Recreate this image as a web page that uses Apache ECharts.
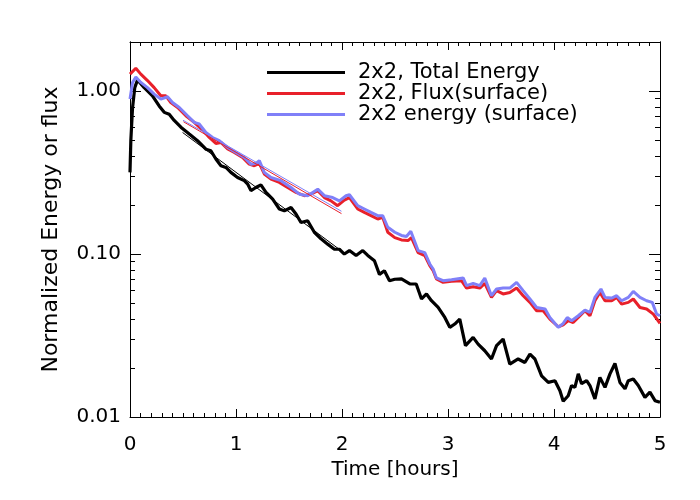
<!DOCTYPE html>
<html>
<head>
<meta charset="utf-8">
<script src="https://cdn.jsdelivr.net/npm/echarts@6/dist/echarts.min.js"></script>
<style>html,body{margin:0;padding:0;background:#fff;}#c{width:700px;height:500px;}</style>
</head>
<body>
<div id="c"></div>
<script>
// [time (hours), normalized value]
const totalEnergy = [[0,0.317],[0.008,0.5],[0.024,0.79],[0.045,1.05],[0.071,1.17],[0.134,1.05],[0.212,0.935],[0.275,0.81],[0.323,0.74],[0.37,0.72],[0.417,0.66],[0.48,0.60],[0.559,0.545],[0.637,0.496],[0.716,0.44],[0.763,0.43],[0.81,0.383],[0.858,0.348],[0.905,0.34],[0.952,0.317],[1.015,0.295],[1.078,0.282],[1.11,0.269],[1.141,0.245],[1.188,0.256],[1.235,0.266],[1.283,0.239],[1.346,0.217],[1.409,0.189],[1.456,0.184],[1.519,0.193],[1.566,0.176],[1.613,0.156],[1.676,0.16],[1.739,0.136],[1.802,0.124],[1.865,0.115],[1.928,0.107],[1.975,0.107],[2.022,0.1],[2.07,0.105],[2.133,0.098],[2.196,0.105],[2.243,0.098],[2.306,0.091],[2.353,0.075],[2.4,0.079],[2.448,0.0686],[2.498,0.07],[2.561,0.0703],[2.64,0.0655],[2.70,0.0655],[2.75,0.053],[2.797,0.0569],[2.844,0.0517],[2.907,0.047],[2.97,0.0408],[3.017,0.0355],[3.064,0.0372],[3.111,0.0399],[3.165,0.0274],[3.237,0.0308],[3.284,0.028],[3.347,0.0255],[3.41,0.0227],[3.458,0.0274],[3.52,0.0301],[3.583,0.0211],[3.662,0.0227],[3.725,0.0216],[3.773,0.0243],[3.82,0.0227],[3.883,0.0179],[3.946,0.0163],[4.009,0.0167],[4.056,0.0145],[4.087,0.0125],[4.134,0.0135],[4.166,0.0156],[4.197,0.0152],[4.229,0.0184],[4.26,0.016],[4.308,0.0167],[4.339,0.0156],[4.386,0.0129],[4.433,0.0175],[4.481,0.0152],[4.528,0.0184],[4.575,0.0213],[4.622,0.0163],[4.67,0.0149],[4.701,0.0167],[4.748,0.0171],[4.795,0.0156],[4.858,0.0132],[4.905,0.0142],[4.953,0.0126],[5.0,0.0123]];
const fluxSurface = [[0,1.27],[0.055,1.38],[0.102,1.27],[0.165,1.16],[0.228,1.05],[0.291,0.935],[0.338,0.935],[0.385,0.851],[0.449,0.793],[0.527,0.705],[0.606,0.642],[0.685,0.576],[0.748,0.519],[0.81,0.477],[0.858,0.484],[0.921,0.441],[0.984,0.42],[1.062,0.391],[1.125,0.356],[1.173,0.348],[1.22,0.36],[1.267,0.31],[1.33,0.288],[1.409,0.275],[1.487,0.256],[1.566,0.239],[1.645,0.228],[1.707,0.233],[1.771,0.245],[1.834,0.222],[1.896,0.212],[1.959,0.198],[2.022,0.214],[2.07,0.222],[2.148,0.189],[2.211,0.18],[2.274,0.172],[2.337,0.164],[2.384,0.168],[2.432,0.136],[2.498,0.126],[2.561,0.122],[2.623,0.121],[2.655,0.126],[2.718,0.102],[2.781,0.0977],[2.828,0.0848],[2.86,0.079],[2.891,0.0703],[2.954,0.067],[3.033,0.068],[3.127,0.0686],[3.175,0.0618],[3.237,0.063],[3.3,0.0618],[3.347,0.066],[3.41,0.0542],[3.458,0.0596],[3.52,0.0569],[3.583,0.0581],[3.647,0.0618],[3.709,0.0555],[3.773,0.0505],[3.836,0.0449],[3.898,0.0449],[3.961,0.0399],[4.04,0.0358],[4.087,0.0368],[4.134,0.039],[4.181,0.038],[4.229,0.0408],[4.292,0.0449],[4.339,0.0418],[4.386,0.0517],[4.433,0.0581],[4.481,0.0517],[4.544,0.0517],[4.591,0.0542],[4.638,0.0493],[4.701,0.0505],[4.748,0.053],[4.811,0.047],[4.874,0.046],[4.937,0.0428],[5.0,0.0375]];
const energySurface = [[0,0.893],[0.024,1.13],[0.055,1.22],[0.102,1.13],[0.165,1.05],[0.228,0.958],[0.291,0.893],[0.354,0.923],[0.401,0.851],[0.465,0.793],[0.543,0.705],[0.606,0.642],[0.653,0.628],[0.716,0.557],[0.779,0.519],[0.842,0.496],[0.921,0.451],[0.999,0.42],[1.078,0.391],[1.141,0.356],[1.188,0.36],[1.22,0.374],[1.267,0.317],[1.33,0.295],[1.424,0.282],[1.519,0.256],[1.598,0.233],[1.676,0.228],[1.771,0.25],[1.834,0.228],[1.912,0.222],[1.975,0.212],[2.038,0.228],[2.07,0.231],[2.148,0.198],[2.211,0.189],[2.274,0.18],[2.337,0.172],[2.384,0.172],[2.432,0.146],[2.498,0.136],[2.561,0.13],[2.608,0.128],[2.649,0.138],[2.718,0.105],[2.781,0.102],[2.828,0.0869],[2.86,0.0809],[2.891,0.0713],[2.954,0.0686],[3.033,0.0696],[3.143,0.0713],[3.175,0.064],[3.237,0.066],[3.3,0.064],[3.347,0.0713],[3.41,0.0555],[3.458,0.061],[3.52,0.0618],[3.583,0.0618],[3.647,0.067],[3.709,0.0596],[3.773,0.053],[3.836,0.047],[3.916,0.046],[3.961,0.0408],[4.04,0.0355],[4.087,0.0375],[4.125,0.0408],[4.166,0.039],[4.229,0.0418],[4.292,0.0453],[4.339,0.0438],[4.386,0.0542],[4.443,0.061],[4.481,0.0542],[4.544,0.0537],[4.591,0.0555],[4.638,0.0517],[4.701,0.0542],[4.748,0.059],[4.811,0.0542],[4.874,0.0517],[4.927,0.0505],[4.968,0.0428],[5.0,0.0418]];
// exponential fits (straight in log space)
const fitTotal = [[0.496,0.557],[1.99,0.105]];
const fitFlux = [[0.505,0.648],[1.995,0.177]];
const fitEnergy = [[0.5,0.662],[1.995,0.183]];

const seriesNames = ['2x2, Total Energy', '2x2, Flux(surface)', '2x2 energy (surface)'];
const xTicks = [0, 1, 2, 3, 4, 5];
const yMajor = [0.01, 0.1, 1];
const yMinor = [0.02,0.03,0.04,0.05,0.06,0.07,0.08,0.09,0.2,0.3,0.4,0.5,0.6,0.7,0.8,0.9];

const FONT = 'DejaVu Sans';
const axisLine = { show: true, lineStyle: { color: '#000', width: 1 } };

function yAx(pos, ticks, len, labels) {
  return {
    type: 'log', logBase: 10, min: 0.01, max: 2, position: pos,
    axisLine: axisLine,
    splitLine: { show: false },
    axisTick: { show: true, inside: true, length: len, customValues: ticks, lineStyle: { color: '#000' } },
    axisLabel: labels ? { show: true, customValues: yMajor, formatter: v => Number(v).toFixed(2), fontFamily: FONT, fontSize: 20, color: '#000', margin: 9 } : { show: false },
    name: labels ? 'Normalized Energy or flux' : '',
    nameLocation: 'middle', nameGap: 68,
    nameTextStyle: { fontFamily: FONT, fontSize: 22, color: '#000' }
  };
}
function xAx(pos, labels) {
  return {
    type: 'value', min: 0, max: 5, interval: 1, position: pos,
    axisLine: axisLine,
    splitLine: { show: false },
    axisTick: { show: true, inside: true, length: 8, lineStyle: { color: '#000' } },
    minorTick: { show: true, splitNumber: 10, length: 4, lineStyle: { color: '#000' } },
    axisLabel: labels ? { show: true, fontFamily: FONT, fontSize: 20, color: '#000', margin: 18, formatter: v => xTicks.indexOf(v) >= 0 ? String(v) : '' } : { show: false },
    name: labels ? 'Time [hours]' : '',
    nameLocation: 'middle', nameGap: 40,
    nameTextStyle: { fontFamily: FONT, fontSize: 20, color: '#000' }
  };
}

const chart = echarts.init(document.getElementById('c'), null, { renderer: 'canvas' });
chart.setOption({
  animation: false,
  backgroundColor: '#fff',
  grid: { left: 130, right: 40, top: 42, bottom: 83, containLabel: false },
  legend: {
    data: seriesNames, orient: 'vertical', left: 267, top: 62, padding: 0,
    icon: 'rect', itemWidth: 78, itemHeight: 3, itemGap: 0,
    textStyle: { fontFamily: FONT, fontSize: 21, color: '#000', lineHeight: 21, padding: [0, 0, 0, 8] }
  },
  xAxis: [xAx('bottom', true), xAx('top', false)],
  yAxis: [yAx('left', yMajor, 11, true), yAx('left', yMinor, 5, false), yAx('right', yMajor, 11, false), yAx('right', yMinor, 5, false)],
  series: [
    { name: seriesNames[0], type: 'line', data: totalEnergy, symbol: 'none', lineStyle: { color: '#000', width: 3.2 }, itemStyle: { color: '#000' } },
    { name: seriesNames[1], type: 'line', data: fluxSurface, symbol: 'none', lineStyle: { color: '#e8202a', width: 3 }, itemStyle: { color: '#e8202a' } },
    { name: seriesNames[2], type: 'line', data: energySurface, symbol: 'none', lineStyle: { color: '#8080f8', width: 3 }, itemStyle: { color: '#8080f8' } },
    { name: 'fitTotal', type: 'line', data: fitTotal, symbol: 'none', lineStyle: { color: '#000', width: 1 } },
    { name: 'fitFlux', type: 'line', data: fitFlux, symbol: 'none', lineStyle: { color: '#e8202a', width: 1 } },
    { name: 'fitEnergy', type: 'line', data: fitEnergy, symbol: 'none', lineStyle: { color: '#8080f8', width: 1 } }
  ]
});
</script>
</body>
</html>
